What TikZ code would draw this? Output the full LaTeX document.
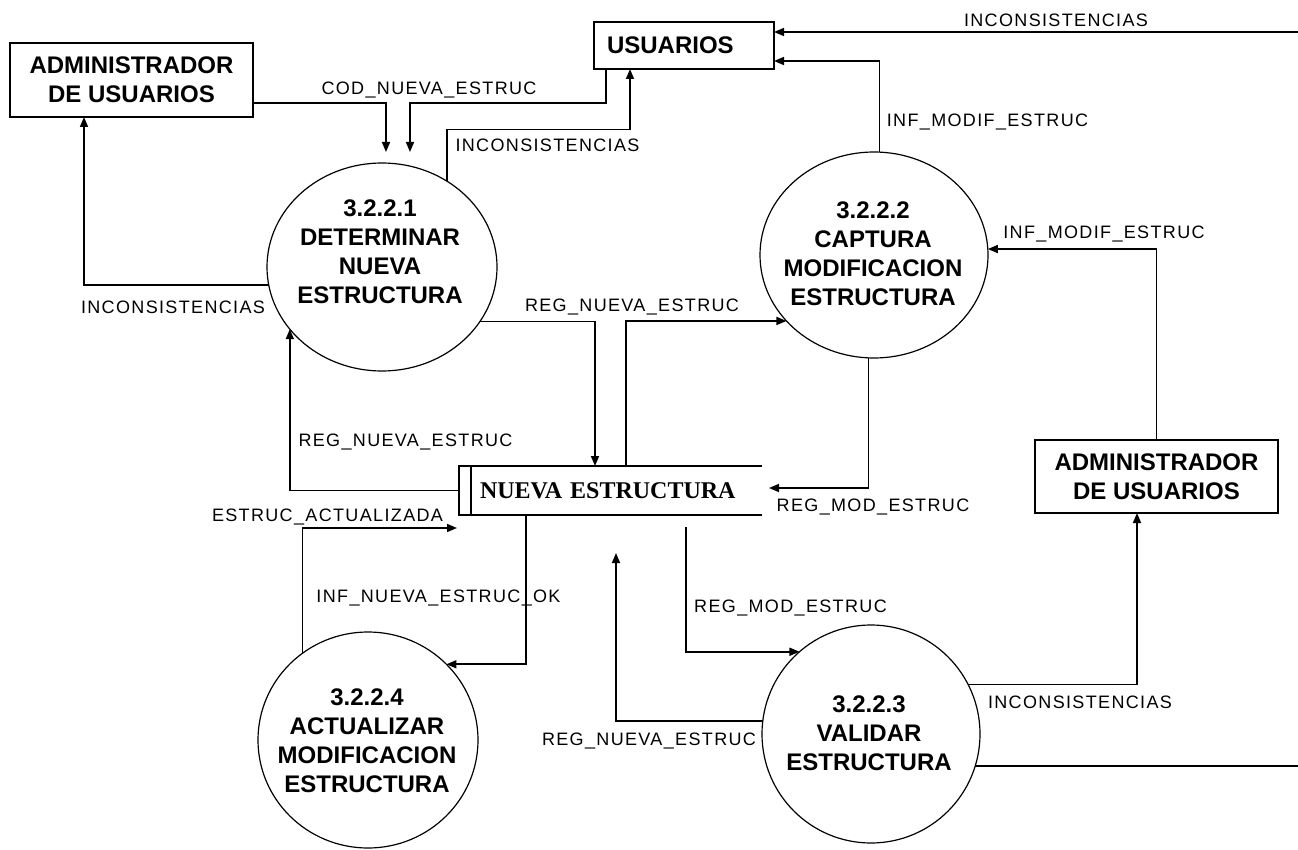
\documentclass[tikz,border=0pt]{standalone}
\usepackage{fontspec}
\setmainfont{Liberation Sans}
\newfontfamily\boxfont{Liberation Sans}
\newfontfamily\storefont{Liberation Serif}
\newfontfamily\flowfont[LetterSpace=7.5]{Liberation Sans}
\usetikzlibrary{shapes.geometric,arrows.meta}

\begin{document}
\begin{tikzpicture}[x=1pt,y=-1pt,
  entity/.style={draw,line width=1.6pt,rectangle,inner sep=0pt,outer sep=0pt,align=center,
    font=\boxfont\bfseries\fontsize{24}{29}\selectfont},
  process/.style={draw,line width=1.2pt,ellipse,inner sep=0pt,outer sep=0pt},
  ptext/.style={anchor=north,inner sep=0pt,align=center,
    font=\boxfont\bfseries\fontsize{24}{29}\selectfont},
  flow/.style={line width=1.6pt,-{Triangle[length=10pt,width=8pt]}},
  flowlabel/.style={anchor=base,inner sep=0pt,font=\flowfont\fontsize{18}{20}\selectfont},
]
\fill[white] (0,0) rectangle (1298,850);
\useasboundingbox (0,0) rectangle (1298,850);

% external entities
\node[entity,minimum width=243pt,minimum height=74pt] (adminL) at (131.5,80) {ADMINISTRADOR\\DE USUARIOS};
\node[entity,minimum width=180pt,minimum height=47pt,text width=154pt,align=left] (usu) at (684,45.5) {USUARIOS};
\node[entity,minimum width=243pt,minimum height=73pt] (adminR) at (1156.5,476.5) {ADMINISTRADOR\\DE USUARIOS};

% processes
\node[process,minimum width=230pt,minimum height=208pt] (c1) at (382,267) {};
\node[process,minimum width=228pt,minimum height=206pt] (c2) at (874,255) {};
\node[process,minimum width=218pt,minimum height=218pt] (c3) at (871,734) {};
\node[process,minimum width=220pt,minimum height=216pt] (c4) at (368,740) {};

\node[ptext] (c1t) at (380,199.8) {3.2.2.1\\DETERMINAR\\NUEVA\\ESTRUCTURA};
\node[ptext] (c2t) at (873,201.8) {3.2.2.2\\CAPTURA\\MODIFICACION\\ESTRUCTURA};
\node[ptext] (c3t) at (869,695.8) {3.2.2.3\\VALIDAR\\ESTRUCTURA};
\node[ptext] (c4t) at (367,688.8) {3.2.2.4\\ACTUALIZAR\\MODIFICACION\\ESTRUCTURA};

% data store
\node[inner xsep=21pt,inner ysep=0pt,outer sep=0pt,text width=261pt,align=left,
      minimum height=49pt,font=\storefont\bfseries\fontsize{24}{29}\selectfont]
      (store) at (610.5,490.5) {NUEVA ESTRUCTURA};
\draw[line width=1.6pt] (store.north east) -- (store.north west) -- (store.south west) -- (store.south east);
\draw[line width=1.6pt] ([xshift=12pt]store.north west) -- ([xshift=12pt]store.south west);

% data flows
\draw[flow] ([yshift=-23pt]adminL.east) -| ([xshift=4pt,yshift=11pt]c1.north);
\draw[flow] ([xshift=12pt]usu.south west) -- ++(0,34) -| ([xshift=28pt,yshift=11pt]c1.north);
\draw[flow] (c1.53.5) -- ++(0,-51.6) -| ([xshift=36pt]usu.south west);
\draw[flow] (c1.189) -| ([xshift=-47.5pt]adminL.south);
\draw[flow] (c1.-29.4) -| ([xshift=-15.5pt]store.north);
\draw[flow] ([xshift=15.5pt]store.north) |- (c2.217.7);
\draw[flow] (store.west) -| (c1.214.1);
\draw[flow] (c2.267) |- ([xshift=7pt,yshift=2.5pt]store.east);
\draw[flow] (c2.87) |- ([yshift=-15.5pt]usu.east);
\coordinate (edgeHigh) at (1302,32);
\draw[flow] (c3.-17.6) -| (edgeHigh) -- ([yshift=13.5pt]usu.east);
\draw[flow] (adminR.north) |- (c2.3);
\draw[flow] (c3.27.3) -| ([xshift=-19.5pt]adminR.south);
\draw[flow] (c3.173.1) -| ([xshift=5.5pt,yshift=-38pt]store.south);
\draw[flow] ([xshift=75.5pt,yshift=-12pt]store.south) |- (c3.131.2);
\draw[flow] (c4.127.4) |- ([xshift=-2pt,yshift=-37.5pt]store.west);
\draw[flow] ([xshift=-84.5pt]store.south) |- (c4.44.2);

% flow labels
\node[flowlabel] (l1) at (429,95) {COD\_NUEVA\_ESTRUC};
\node[flowlabel] (l2) at (547.5,152) {INCONSISTENCIAS};
\node[flowlabel] (l3) at (173,313) {INCONSISTENCIAS};
\node[flowlabel] (l4) at (632,311) {REG\_NUEVA\_ESTRUC};
\node[flowlabel] (l5) at (405.5,446) {REG\_NUEVA\_ESTRUC};
\node[flowlabel] (l6) at (1056,27) {INCONSISTENCIAS};
\node[flowlabel] (l7) at (987.5,127) {INF\_MODIF\_ESTRUC};
\node[flowlabel] (l8) at (1104,239) {INF\_MODIF\_ESTRUC};
\node[flowlabel] (l9) at (873,511) {REG\_MOD\_ESTRUC};
\node[flowlabel] (l10) at (327.5,521) {ESTRUC\_ACTUALIZADA};
\node[flowlabel] (l11) at (438.5,602) {INF\_NUEVA\_ESTRUC\_OK};
\node[flowlabel] (l12) at (790.5,612) {REG\_MOD\_ESTRUC};
\node[flowlabel] (l13) at (1080,708) {INCONSISTENCIAS};
\node[flowlabel] (l14) at (649,745) {REG\_NUEVA\_ESTRUC};
\end{tikzpicture}
\end{document}
